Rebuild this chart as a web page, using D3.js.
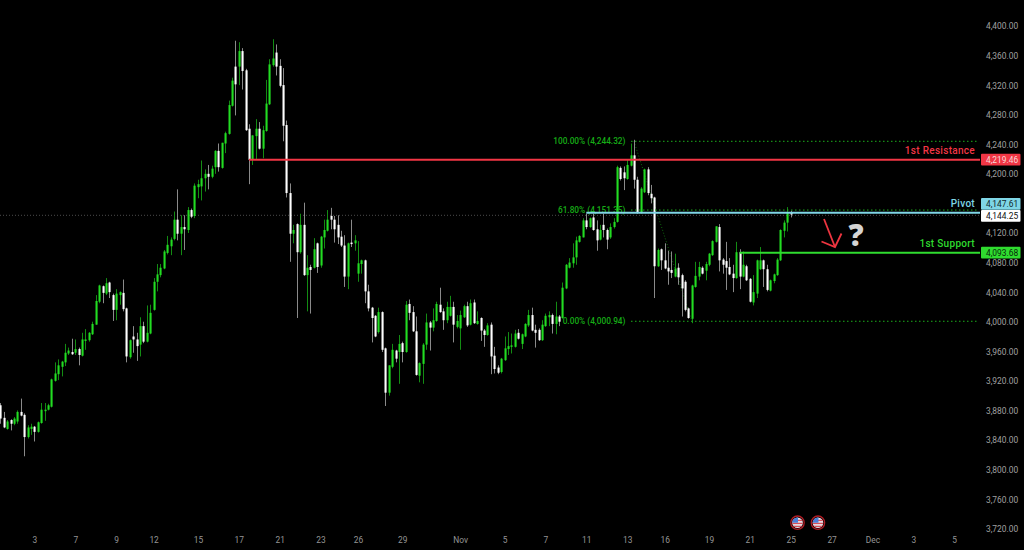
<!DOCTYPE html>
<html><head><meta charset="utf-8">
<script src="https://cdn.jsdelivr.net/npm/d3@7"></script>
<style>html,body{margin:0;padding:0;background:#000;overflow:hidden}svg{display:block}text{font-family:Roboto,"Liberation Sans",sans-serif}</style>
</head><body><div id="c"></div>
<script>
const opens=[3886,3869,3854,3866,3861,3864,3877,3873,3843,3854,3857,3850,3862,3878,3880,3884,3919,3928,3938,3944,3956,3958,3957,3962,3953,3973,3974,3982,3995,4026,4047,4037,4052,4035,4015,4035,4038,4017,3951,3979,3975,3968,3993,3972,3983,4015,4053,4062,4071,4092,4101,4111,4137,4118,4127,4123,4150,4142,4181,4182,4193,4199,4195,4208,4230,4207,4240,4253,4291,4344,4344,4365,4339,4260,4218,4250,4260,4233,4257,4293,4346,4363,4345,4319,4265,4173,4118,4131,4093,4130,4062,4073,4072,4105,4075,4113,4122,4142,4137,4130,
4114,4102,4060,4106,4105,4064,4077,4082,4040,4018,4007,3985,4012,3963,3903,3938,3960,3958,3970,3958,4023,4012,3986,3926,3942,3968,3998,3991,4000,4022,4013,4001,4007,4019,3992,3990,4005,4020,3995,4025,3996,4004,3987,3981,3995,3953,3937,3931,3947,3962,3965,3965,3984,3969,3979,3994,4008,3988,3988,3974,3993,4005,4008,3996,4006,4004,4044,4072,4078,4086,4107,4113,4136,4127,4140,4124,4110,4130,4123,4113,4127,
4134,4207,4201,4192,4210,4224,4191,4146,4174,4205,4172,4167,4074,4097,4082,4072,4069,4060,4072,4062,4053,4017,4003,4046,4060,4072,4068,4076,4089,4107,4127,4083,4081,4073,4064,4058,4093,4060,4074,4057,4025,4037,4070,4082,4070,4041,4054,4062,4082,4122,4133,4146];
const highs=[3889,3877,3866,3867,3870,3879,3895,3875,3859,3861,3858,3864,3889,3889,3888,3922,3944,3948,3946,3969,3964,3976,3975,3964,3984,3989,3985,3999,4035,4049,4048,4058,4053,4037,4043,4040,4056,4018,3975,3993,3984,4005,3999,4021,4022,4058,4077,4077,4096,4115,4113,4148,4178,4143,4143,4154,4152,4186,4191,4217,4205,4211,4210,4231,4240,4241,4256,4298,4329,4379,4377,4369,4341,4266,4251,4273,4269,4264,4326,4354,4381,4374,4354,4342,4271,4186,4130,4132,4145,4160,4089,4076,4112,4106,4115,4137,4150,4153,4142,4143,
4122,4116,4106,4137,4116,4108,4083,4083,4049,4019,4008,4018,4013,3964,3940,3969,3961,3981,3972,4027,4029,4020,4006,3944,3970,4010,4000,4017,4026,4045,4017,4026,4034,4026,4008,4014,4022,4026,4029,4029,4013,4005,3989,3997,3998,3965,3940,3950,3979,3985,3983,3988,3989,3983,3997,4015,4018,3995,3990,4001,4010,4013,4010,4026,4008,4052,4077,4085,4105,4114,4116,4139,4145,4140,4145,4136,4130,4145,4125,4132,4139,
4210,4209,4209,4218,4240,4245,4195,4181,4206,4208,4184,4168,4098,4098,4105,4095,4094,4091,4078,4064,4055,4018,4049,4080,4080,4074,4080,4092,4109,4128,4131,4085,4107,4085,4076,4107,4097,4094,4076,4058,4062,4083,4100,4083,4076,4056,4064,4085,4124,4136,4154,4149];
const lows=[3861,3855,3853,3852,3859,3861,3871,3817,3841,3846,3837,3849,3861,3865,3879,3883,3918,3920,3925,3939,3954,3954,3954,3940,3952,3961,3972,3981,3995,4024,4024,4035,4031,4000,4001,4022,4013,3944,3949,3957,3946,3952,3970,3971,3982,4014,4040,4059,4070,4090,4089,4109,4109,4089,4096,4119,4139,4139,4166,4163,4175,4178,4193,4199,4202,4206,4227,4252,4290,4278,4319,4313,4257,4185,4211,4218,4232,4220,4256,4292,4344,4332,4316,4243,4167,4080,4105,4004,4091,4061,4013,4010,4071,4065,4072,4098,4121,4124,4106,4104,
4100,4046,4043,4100,4095,4053,4064,4024,4013,3971,3978,3983,3958,3885,3899,3936,3944,3915,3944,3957,4001,3985,3926,3917,3915,3961,3960,3986,3999,4011,3988,3997,4006,3971,3990,3961,4004,3992,3994,3996,3995,3973,3965,3980,3928,3929,3928,3929,3946,3954,3956,3964,3975,3962,3978,3992,3986,3964,3973,3973,3992,3993,3983,3982,3993,4003,4043,4071,4072,4076,4106,4113,4124,4126,4122,4095,4109,4113,4097,4111,4125,
4133,4190,4177,4191,4209,4179,4145,4145,4173,4170,4159,4031,4073,4069,4070,4049,4058,4059,4049,4006,4013,4003,3997,4045,4055,4063,4055,4074,4088,4106,4067,4064,4042,4062,4039,4057,4043,4059,4054,4025,4021,4031,4069,4046,4040,4040,4051,4061,4081,4113,4121,4140];
const closes=[3868,3856,3864,3861,3868,3877,3872,3843,3856,3857,3850,3863,3880,3880,3886,3921,3929,3940,3945,3957,3960,3955,3962,3954,3975,3975,3984,3996,4027,4048,4038,4051,4039,4015,4037,4039,4016,3952,3974,3975,3966,3993,3972,3984,4011,4053,4063,4072,4094,4103,4110,4137,4118,4127,4124,4150,4141,4183,4185,4193,4199,4195,4206,4230,4208,4241,4254,4292,4325,4320,4365,4338,4258,4218,4251,4260,4233,4258,4294,4347,4355,4344,4318,4264,4173,4118,4123,4093,4130,4062,4072,4069,4097,4073,4114,4123,4137,4137,4124,4113,
4102,4060,4105,4104,4109,4078,4082,4040,4017,4004,3979,4012,3961,3903,3940,3961,3949,3969,3958,4022,4011,3986,3927,3943,3968,3998,3991,4001,4023,4012,4001,4019,4019,3995,4000,4008,4020,3994,4024,3997,4000,3987,3981,3994,3952,3935,3930,3949,3963,3966,3967,3983,3976,3982,3996,4008,3987,3984,3974,3995,4007,4008,3996,4006,3999,4045,4076,4079,4086,4109,4115,4136,4127,4139,4123,4109,4123,4123,4110,4127,4134,
4208,4192,4193,4211,4224,4191,4146,4179,4205,4173,4166,4074,4096,4082,4071,4067,4065,4071,4059,4044,4015,4004,4048,4061,4073,4064,4077,4091,4108,4128,4082,4076,4072,4063,4058,4093,4060,4076,4055,4026,4039,4082,4082,4070,4042,4055,4063,4083,4123,4133,4146,4144];

const priceTicks=[4400,4360,4320,4280,4240,4200,4120,4080,4040,4000,3960,3920,3880,3840,3800,3760,3720];
const timeLabels=["3","7","9","12","15","17","21","23","26","29","Nov","5","7","11","13","16","19","21","25","27","Dec","3","5"];
const timeBars=[10,22,34,45,58,70,82,94,105,118,135,148,160,172,184,195,208,220,232,244,256,268,280];
const levelNames=["1st Resistance","Pivot","1st Support"];
const levelPrices=[4219.46,4147.61,4093.68];
const levelStartBars=[73,172,217];
const levelColors=["#f23645","#7fd6e6","#2fdc2f"];
const fibLabels=["100.00% (4,244.32)","61.80% (4,151.35)","0.00% (4,000.94)"];
const fibPrices=[4244.32,4151.35,4000.94];
const lastPrice=4144.25;
const flagBars=[234,240];
const tagPrices=[4219.46,4147.61,4144.25,4093.68];
const tagFills=["#f23645","#7fd6e6","#ffffff","#2fdc2f"];
const tagInks=["#f7d8d8","#10262b","#111111","#07280a"];

const W=1024,H=550,plotR=980;
const x=d3.scaleLinear().domain([0,232]).range([0.3,790.7]);
const y=d3.scaleLinear().domain([3720,4400]).range([529,26.2]);
const svg=d3.select("#c").append("svg").attr("width",W).attr("height",H).style("background","#000");
const n=opens.length, bars=d3.range(n);

svg.append("line").attr("x1",0).attr("x2",plotR).attr("y1",y(lastPrice)).attr("y2",y(lastPrice))
  .attr("stroke","#4c4c4c").attr("stroke-width",1).attr("stroke-dasharray","1 2");

svg.append("line").attr("x1",x(186)).attr("y1",y(fibPrices[0])).attr("x2",x(203)).attr("y2",y(fibPrices[2]))
  .attr("stroke","#0f6a0f").attr("stroke-width",1).attr("stroke-dasharray","1 2");

const bull=i=>closes[i]>=opens[i];
const candles=svg.append("g").attr("transform","translate(0,-1)");
candles.append("g").selectAll("line").data(bars).join("line")
  .attr("x1",i=>Math.round(x(i))+0.5).attr("x2",i=>Math.round(x(i))+0.5)
  .attr("y1",i=>y(highs[i])).attr("y2",i=>y(lows[i]))
  .attr("stroke",i=>bull(i)?"#138c13":"#8a8a8a").attr("stroke-width",1);
candles.append("g").selectAll("rect").data(bars).join("rect")
  .attr("x",i=>Math.round(x(i))-0.5).attr("width",2.1)
  .attr("y",i=>y(Math.max(opens[i],closes[i])))
  .attr("height",i=>Math.max(1,Math.abs(y(opens[i])-y(closes[i]))))
  .attr("fill",i=>bull(i)?"#22dc22":"#ffffff");

const fibG=svg.append("g");
fibPrices.forEach((p,i)=>{
  fibG.append("line").attr("x1",631).attr("x2",978)
    .attr("y1",y(p)).attr("y2",y(p)).attr("stroke","#1cae1c").attr("stroke-width",1).attr("stroke-dasharray","1.5 2.5");
  fibG.append("text").attr("x",625.5).attr("y",y(p)+3).attr("text-anchor","end")
    .attr("font-size",8.3).attr("font-weight",500).attr("fill","#16ac16").text(fibLabels[i]);
});

levelPrices.forEach((p,i)=>{
  svg.append("line").attr("x1",x(levelStartBars[i])).attr("x2",plotR).attr("y1",y(p)).attr("y2",y(p))
    .attr("stroke",levelColors[i]).attr("stroke-width",2);
  svg.append("text").attr("x",975).attr("y",y(p)-5.5).attr("text-anchor","end").attr("font-size",10)
    .attr("font-weight",500).attr("letter-spacing",0.3).attr("fill",levelColors[i]).text(levelNames[i]);
});

const yAxis=svg.append("g").attr("transform","translate(981,0)")
  .call(d3.axisRight(y).tickValues(priceTicks).tickFormat(d3.format(",.2f")).tickSize(0).tickPadding(5));
yAxis.select(".domain").remove();
yAxis.selectAll("text").attr("font-size",8.4).attr("fill","#a0a0a0").style("font-family","Roboto,sans-serif");
const xAxis=svg.append("g").attr("transform","translate(0,534.5)")
  .call(d3.axisBottom(x).tickValues(timeBars).tickFormat((d,i)=>timeLabels[i]).tickSize(0).tickPadding(3));
xAxis.select(".domain").remove();
xAxis.selectAll("text").attr("font-size",8.4).attr("fill","#959595").style("font-family","Roboto,sans-serif");

const fmt=d3.format(",.2f");
const tagShift=[0,-9,0.5,0];
tagPrices.forEach((p,i)=>{
  const cy=y(p)+tagShift[i];
  svg.append("rect").attr("x",981).attr("y",cy-5.85).attr("width",39.5).attr("height",11.7).attr("rx",1).attr("fill",tagFills[i]);
  svg.append("text").attr("x",986).attr("y",cy+2.9).attr("font-size",8.4).attr("fill",tagInks[i]).text(fmt(p));
});

const ax=d3.scaleLinear().domain([0,1]).range([824,835]);
const ay=d3.scaleLinear().domain([0,1]).range([219,247]);
svg.append("path").attr("d",d3.line()([[ax(0),ay(0)],[ax(1),ay(1)]])).attr("stroke","#ee3540").attr("stroke-width",1.8).attr("fill","none");
svg.append("path").attr("d",d3.line()([[821.5,241.5],[ax(1),ay(1)],[841.5,233.5]])).attr("stroke","#ee3540").attr("stroke-width",1.8).attr("fill","none");
svg.append("text").attr("x",856).attr("y",246).attr("text-anchor","middle").attr("font-size",30).attr("font-weight",800)
  .style("font-family","'Open Sans',sans-serif").attr("fill","#d4d4d4").text("?");

const defs=svg.append("defs");
flagBars.forEach((b,i)=>{
  const cx=x(b), cy=522.7;
  defs.append("clipPath").attr("id","f"+i).append("circle").attr("cx",cx).attr("cy",cy).attr("r",5.3);
  const g=svg.append("g");
  const f=g.append("g").attr("clip-path",`url(#f${i})`);
  f.append("rect").attr("x",cx-6).attr("y",cy-6).attr("width",12).attr("height",12).attr("fill","#e8e8f0");
  [-3,0,3].forEach(d=>f.append("rect").attr("x",cx-6).attr("y",cy+d).attr("width",12).attr("height",1.4).attr("fill","#d8505a"));
  f.append("rect").attr("x",cx-6).attr("y",cy-6).attr("width",6.5).attr("height",6).attr("fill","#4a7fd8");
  g.append("circle").attr("cx",cx).attr("cy",cy).attr("r",6.7).attr("fill","none").attr("stroke","#b01c24").attr("stroke-width",1.3);
});
</script></body></html>
